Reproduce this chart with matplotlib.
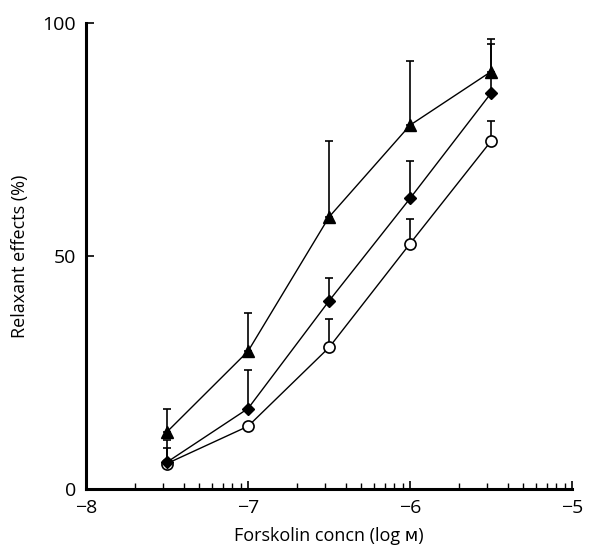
import numpy as np
from matplotlib import pyplot as plt
from matplotlib.ticker import FixedLocator

# log concentrations of forskolin
conc = [-7.5, -7.0, -6.5, -6.0, -5.5]

# relaxant effects (%) and upper error (SEM)
circle_y = [5.5, 13.5, 30.4, 52.7, 74.7]
circle_err = [3.4, 0.0, 6.2, 5.2, 4.3]

diamond_y = [5.8, 17.3, 40.4, 62.4, 85.0]
diamond_err = [4.8, 8.2, 4.8, 8.1, 10.5]

triangle_y = [12.3, 29.6, 58.4, 78.1, 89.6]
triangle_err = [4.8, 8.2, 16.3, 13.7, 7.0]

x_ticks = [-8, -7, -6, -5]
x_tick_labels = ['\u22128', '\u22127', '\u22126', '\u22125']
y_ticks = [0, 50, 100]

plt.rcParams['font.family'] = ['Open Sans', 'DejaVu Sans']

fig = plt.figure(figsize=(6.1, 5.49), dpi=100)
ax = fig.add_axes([0.141, 0.109, 0.797, 0.849])

common = dict(color='black', lw=1.0, capsize=3, elinewidth=1.2, capthick=1.2)
ax.errorbar(conc, circle_y, yerr=[np.zeros(5), circle_err], fmt='-o', ms=8,
            mfc='white', mec='black', mew=1.2, zorder=2, **common)
ax.errorbar(conc, diamond_y, yerr=[np.zeros(5), diamond_err], fmt='-D', ms=6.5,
            mfc='black', mec='black', zorder=3, **common)
ax.errorbar(conc, triangle_y, yerr=[np.zeros(5), triangle_err], fmt='-^', ms=9,
            mfc='black', mec='black', zorder=4, **common)

ax.set_xlim(-8, -5)
ax.set_ylim(0, 100)
ax.set_xticks(x_ticks)
ax.set_xticklabels(x_tick_labels)
minor = [d + np.log10(k) for d in (-8, -7, -6) for k in range(2, 10)]
ax.xaxis.set_minor_locator(FixedLocator(minor))
ax.set_yticks(y_ticks)

for s in ['top', 'right']:
    ax.spines[s].set_visible(False)
for s in ['left', 'bottom']:
    ax.spines[s].set_linewidth(2.2)

ax.tick_params(axis='both', which='major', direction='in', length=6, width=1.2,
               labelsize=14)
ax.tick_params(axis='x', which='major', pad=7)
ax.tick_params(axis='y', which='major', pad=7)
ax.tick_params(axis='x', which='minor', direction='in', length=4, width=1.0)

ax.set_xlabel('Forskolin concn (log \u1d0d)', fontsize=13, labelpad=7)
ax.set_ylabel('Relaxant effects (%)', fontsize=13, labelpad=10)

fig.savefig('out.png', dpi=100)
